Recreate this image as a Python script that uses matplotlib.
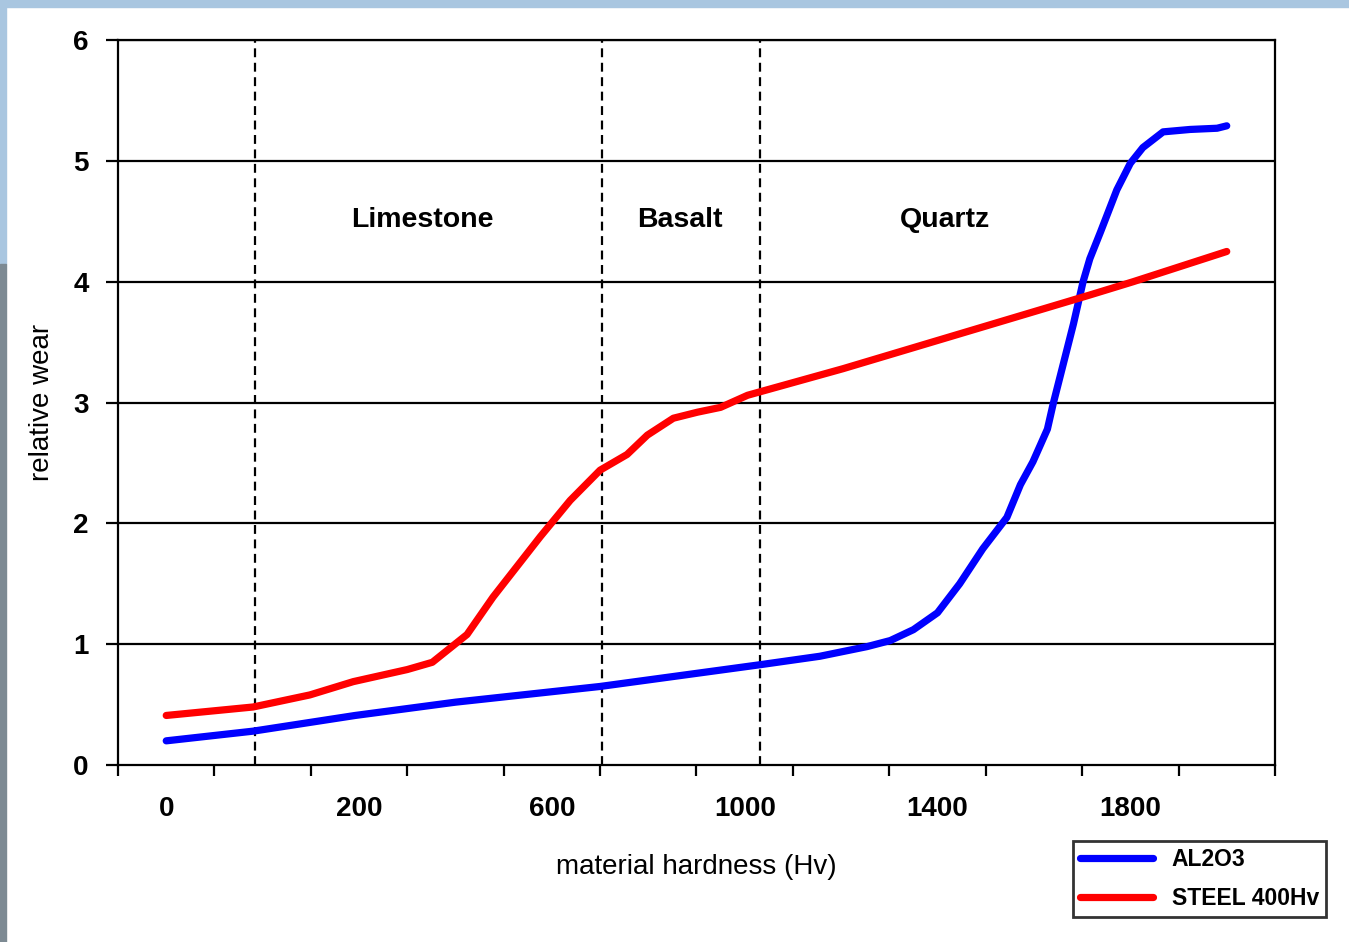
import numpy as np
import matplotlib
matplotlib.use("Agg")
import matplotlib.pyplot as plt
from matplotlib.patches import Rectangle

# category labels on the x axis (label every second category)
hardness_labels = ['0', '200', '600', '1000', '1400', '1800']
label_pos = [0, 2, 4, 6, 8, 10]

# x values are in category units (0 = first category centre)
al2o3_x = [0, 0.90, 1.96, 3.0, 4.50, 6.16, 6.78, 7.27, 7.51, 7.75, 8.0, 8.23,
           8.47, 8.72, 8.86, 8.99, 9.14, 9.20, 9.34, 9.41, 9.51, 9.58, 9.69,
           9.86, 10.0, 10.13, 10.34, 10.62, 10.90, 11.0]
al2o3_y = [0.20, 0.28, 0.41, 0.52, 0.65, 0.83, 0.90, 0.98, 1.03, 1.12, 1.26, 1.50,
           1.79, 2.05, 2.32, 2.51, 2.78, 2.99, 3.43, 3.65, 4.0, 4.19, 4.41,
           4.76, 4.98, 5.11, 5.24, 5.26, 5.27, 5.29]

steel_x = [0, 0.90, 1.49, 1.94, 2.50, 2.76, 3.12, 3.39, 3.88, 4.19, 4.50, 4.78,
           4.99, 5.26, 5.51, 5.75, 6.03, 7.02, 9.58, 10.03, 11.0]
steel_y = [0.41, 0.48, 0.58, 0.69, 0.79, 0.85, 1.08, 1.39, 1.89, 2.19, 2.44, 2.57,
           2.73, 2.87, 2.92, 2.96, 3.06, 3.28, 3.89, 4.0, 4.25]

# rock regions
region_lines = [0.92, 4.52, 6.16]
region_names = ['Limestone', 'Basalt', 'Quartz']
region_text_x = [2.66, 5.33, 8.08]

plt.rcParams['font.family'] = ['Liberation Sans', 'DejaVu Sans']

fig = plt.figure(figsize=(13.49, 9.42), dpi=100)
fig.patches.append(Rectangle((0, 0.993), 1, 0.007, transform=fig.transFigure,
                             color='#a9c6e0', zorder=0))
fig.patches.append(Rectangle((0, 0.72), 0.0045, 0.28, transform=fig.transFigure,
                             color='#a9c6e0', zorder=0))
fig.patches.append(Rectangle((0, 0.0), 0.0045, 0.72, transform=fig.transFigure,
                             color='#7d8a93', zorder=0))

ax = fig.add_axes([0.0875, 0.1879, 0.8576, 0.7696])

for y in range(1, 7):
    ax.axhline(y, color='black', lw=1.6, zorder=1)
for x in region_lines:
    ax.axvline(x, color='black', lw=1.6, ls=(0, (4, 2.5)), zorder=1)

ax.plot(al2o3_x, al2o3_y, color='#0000ff', lw=5.2, solid_capstyle='round',
        solid_joinstyle='round', label='AL2O3', zorder=3)
ax.plot(steel_x, steel_y, color='#ff0000', lw=5.2, solid_capstyle='round',
        solid_joinstyle='round', label='STEEL 400Hv', zorder=3)

for name, x in zip(region_names, region_text_x):
    ax.text(x, 4.51, name, ha='center', va='center', fontsize=20.5,
            fontweight='bold')

ax.set_xlim(-0.5, 11.5)
ax.set_ylim(0, 6)
ax.set_yticks(range(0, 7))
ax.set_yticklabels([str(v) for v in range(0, 7)], fontsize=20, fontweight='bold')
ax.tick_params(axis='y', length=9, width=1.6, pad=12)

ax.set_xticks(np.arange(-0.5, 12, 1))
ax.set_xticklabels([])
ax.tick_params(axis='x', which='major', length=8, width=1.6)
ax.set_xticks(label_pos, minor=True)
ax.set_xticklabels(hardness_labels, minor=True, fontsize=20, fontweight='bold')
ax.tick_params(axis='x', which='minor', length=0, pad=22.5)

for s in ax.spines.values():
    s.set_linewidth(1.6)

ax.set_xlabel('material hardness (Hv)', fontsize=20, labelpad=23)
ax.set_ylabel('relative wear', fontsize=20, labelpad=13)

leg = fig.legend(loc='upper left', bbox_to_anchor=(1073 / 1349, 1 - 841 / 942),
                 frameon=True, fancybox=False, edgecolor='black',
                 handlelength=3.2, handletextpad=0.8, borderpad=0.3,
                 borderaxespad=0, labelspacing=0.7,
                 prop={'weight': 'bold', 'size': 16.5})
leg.get_frame().set_linewidth(2)

fig.savefig('out.png', dpi=100)
